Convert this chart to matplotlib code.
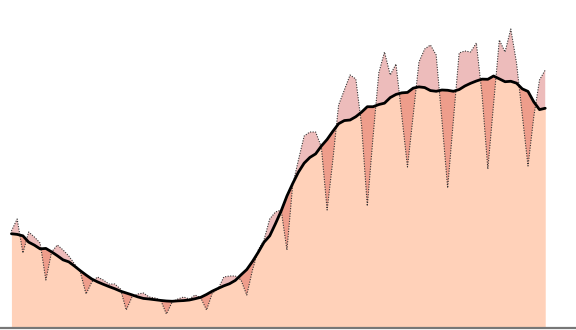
import numpy as np
import pandas as pd
import matplotlib
matplotlib.use("Agg")
import matplotlib.pyplot as plt

# daily values (arbitrary units)
daily = [97, 109, 75, 96, 91, 85, 48, 76, 83, 78, 72, 64, 56, 34, 46, 51, 48, 44, 44, 39,
         18, 31, 34, 35, 31, 30, 28, 14, 26, 29, 31, 29, 33, 30, 18, 35, 39, 51, 52, 52,
         48, 33, 58, 78, 88, 109, 116, 118, 78, 143, 168, 192, 196, 196, 181, 118, 168, 223, 238, 253,
         249, 203, 122, 191, 255, 276, 253, 264, 213, 161, 213, 266, 279, 283, 273, 208, 140, 208, 275, 277,
         276, 285, 233, 159, 224, 288, 276, 299, 265, 213, 162, 211, 248, 258]
days = np.arange(len(daily))

s = pd.Series(daily, dtype=float)
avg = s.rolling(7, center=True, min_periods=1).mean().to_numpy()
d = s.to_numpy()

fig = plt.figure(figsize=(5.76, 3.30), dpi=100)
ax = fig.add_axes([0, 0, 1, 1])

base_col = "#ffd1b9"
above_col = "#edbcbb"
below_col = "#ee9d8b"

ax.fill_between(days, 0, avg, color=base_col, lw=0, zorder=1)
ax.fill_between(days, avg, d, where=d >= avg, interpolate=True, color=above_col, lw=0, zorder=2)
ax.fill_between(days, avg, d, where=d < avg, interpolate=True, color=below_col, lw=0, zorder=2)
ax.plot(days, d, color="#333333", lw=0.8, ls=(0, (1, 1.3)), zorder=3)
ax.plot(days, avg, color="black", lw=2, zorder=4, solid_capstyle="round")
ax.axhline(0, color="#777777", lw=1.6, zorder=5)

ax.set_xlim(-1.99, 98.36)
ax.set_ylim(-2, 328)
ax.axis("off")

fig.savefig("out.png", dpi=100)
